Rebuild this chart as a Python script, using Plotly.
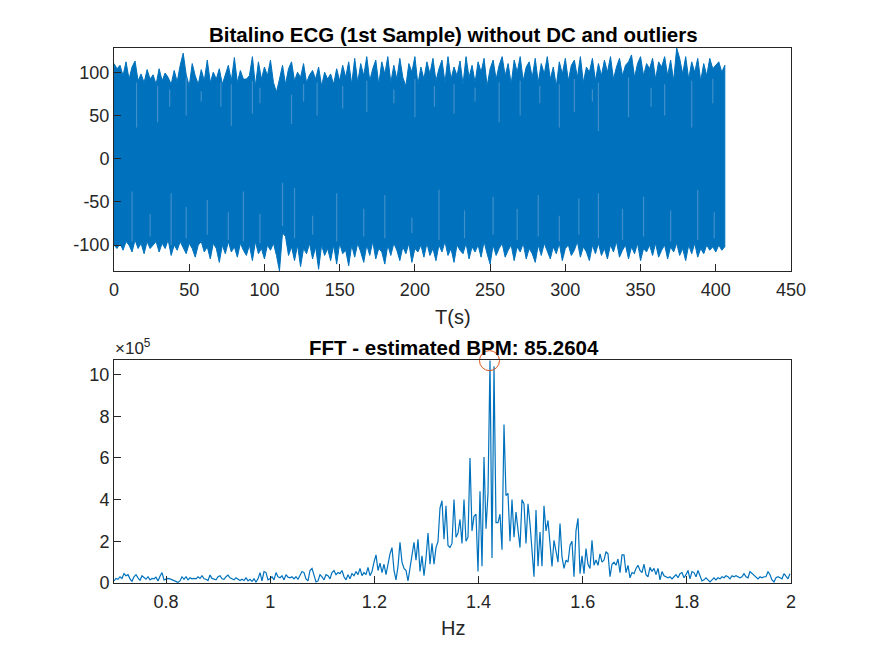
import plotly.graph_objects as go

# Top panel: ECG envelope, one value every 2 s
ecg_step_s = 2
ecg_upper = [110,104,108,96,112,92,106,113,90,98,88,103,92,97,86,104,90,99,94,86,102,89,108,122,97,84,110,96,86,103,90,114,88,100,92,104,86,96,108,90,
             117,88,102,92,92,96,118,84,112,92,106,96,114,88,77,92,108,86,104,112,90,100,94,110,88,97,102,92,106,84,100,92,98,86,104,90,108,94,112,86,
             116,88,110,96,118,90,104,114,86,112,98,118,88,108,92,116,94,84,110,100,118,86,106,92,112,98,116,90,104,114,88,118,92,106,96,113,86,118,94,108,
             88,112,100,116,84,104,114,92,108,118,96,110,86,114,100,118,90,106,112,94,116,88,110,98,118,92,106,84,112,98,116,90,108,114,94,118,88,106,100,116,
             90,110,96,114,100,118,92,106,116,96,108,112,120,94,110,118,96,110,104,116,92,112,106,118,96,114,90,128,116,98,118,92,112,100,116,90,110,96,116,104,108,112,100,108]
ecg_lower = [-100,-104,-98,-106,-96,-100,-108,-94,-104,-98,-110,-96,-104,-100,-96,-108,-98,-104,-94,-112,-100,-106,-96,-102,-110,-98,-104,-114,-100,-96,-108,-102,-116,-98,-104,-120,-100,-110,-96,-108,
             -102,-114,-98,-106,-112,-100,-118,-96,-110,-104,-116,-100,-106,-98,-112,-130,-86,-90,-112,-102,-118,-100,-125,-104,-110,-98,-116,-102,-128,-100,-112,-104,-118,-100,-122,-98,-110,-106,-124,-100,
             -114,-98,-108,-120,-100,-112,-96,-116,-104,-108,-122,-100,-112,-98,-106,-118,-102,-110,-98,-120,-104,-108,-100,-114,-98,-112,-104,-118,-100,-108,-96,-112,-104,-120,-100,-106,-110,-98,-116,-102,
             -108,-100,-114,-96,-110,-122,-100,-112,-104,-98,-114,-106,-100,-118,-102,-108,-98,-116,-104,-110,-120,-100,-112,-98,-108,-116,-102,-110,-98,-118,-104,-100,-112,-106,-96,-114,-102,-108,-118,-100,
             -110,-98,-112,-104,-116,-100,-108,-96,-114,-106,-100,-116,-102,-110,-98,-118,-104,-108,-100,-112,-98,-114,-106,-100,-116,-102,-108,-98,-112,-104,-118,-100,-110,-98,-114,-104,-110,-100,-106,-102,-108,-100,-106,-102]

# Lighter gaps seen inside the band
gap_time_up = [15,29,37,48,58,71,78,92,97,118,126,135,152,168,186,200,213,226,240,256,270,283,296,306,318,322,342,357,366,384,398]
gap_low_up = [36,42,60,50,66,60,38,52,64,40,66,50,58,54,64,48,60,52,66,42,50,64,36,54,66,32,48,60,50,36,64]
gap_high_up = [88,84,80,94,78,88,86,90,82,74,86,88,84,90,80,92,84,86,82,88,90,84,86,92,80,88,94,82,86,90,92]
gap_time_down = [12,24,38,48,62,76,86,97,112,120,132,148,166,180,198,216,233,252,268,282,296,309,322,338,352,370,388,399]
gap_low_down = [-96,-90,-100,-92,-88,-94,-96,-98,-78,-92,-88,-96,-90,-92,-86,-94,-92,-88,-94,-90,-96,-88,-92,-94,-90,-96,-94,-92]
gap_high_down = [-38,-64,-40,-56,-48,-62,-38,-64,-28,-34,-66,-40,-58,-42,-68,-36,-60,-44,-58,-42,-66,-46,-40,-58,-44,-60,-36,-62]

# Bottom panel: FFT magnitude (x 10^5), one value per 2 px of the axis
fft_df = 0.0038405
fft_mag = [
 .1,.22,.18,.3,.22,.45,.35,.4,.2,.08,.3,.4,.25,.12,.35,.28,.18,.3,.15,.22,.2,.28,.1,.32,.5,.15,.2,
 .22,.2,.15,.12,.05,.03,.1,.3,.18,.3,.15,.25,.2,.22,.2,.3,.22,.35,.2,.18,.12,.38,.22,.2,.15,.3,.35,.2,.18,.3,.38,.25,.2,.15,.25,.18,.12,
 .18,.12,.25,.1,.18,.08,.2,.05,.2,.5,.1,.55,.5,.15,.2,.3,.15,.5,.3,.25,.35,.15,.4,.28,.25,.3,.2,.3,.18,.35,
 .55,.5,.2,.1,.6,.7,.4,.05,.1,.4,.3,.15,.4,.35,.2,.5,.6,.4,.5,.45,.6,.3,.15,.4,.2,
 .45,.35,.55,.4,.7,.35,.5,.4,.75,.35,.55,
 1.0,1.35,.6,.95,.5,.9,.4,1.0,1.4,1.7,.6,.15,.8,1.95,
 1.0,.7,.6,.1,.7,1.5,1.95,1.1,2.1,.55,1.3,.35,1.2,2.4,.9,1.9,.9,1.7,2.0,3.6,3.95,2.1,3.7,1.8,1.7,1.9,4.0,2.2,2.4,3.05,1.9,4.0,2.0,2.2,6.0,2.5,3.2,3.3,.55,4.4,.8,6.05,2.6,4.3,10.67,1.2,10.4,2.9,2.9,3.3,1.6,7.6,4.2,4.3,2.0,4.0,
 2.2,3.4,2.4,1.7,4.0,3.8,1.9,3.8,2.85,1.4,.3,3.5,.8,2.45,.8,3.7,2.5,3.0,2.0,.8,2.05,1.6,1.0,2.85,1.25,.7,1.1,1.0,1.8,2.0,.3,2.5,3.1,.45,1.3,.45,1.65,.9,.7,2.05,.85,1.1,.85,1.4,1.0,1.1,1.5,1.4,.3,.9,1.0,.85,1.15,.5,
 1.35,1.35,.5,.85,.25,.5,.45,.7,.85,.6,.5,.9,.4,.3,.75,.55,.7,.4,.7,.15,.55,.35,.3,.25,.3,.2,.3,.4,.25,.45,.5,.25,.4,.6,.2,.55,.5,.3,.6,.3,.1,.15,.25,.15,.05,.15,.25,.15,.25,.2,.3,.25,.35,.3,.2,.35,.3,.35,.3,.25,.3,.45,.3,.25,.55,.45,.35,.3,.2,.3,.25,.3,.3,.55,.4,.15,.05,.25,.3,.25,.2,.45,.35,.2,.45]

peak_freq = [1.42101]
peak_mag = [10.67]

TITLE_TOP = "Bitalino ECG (1st Sample) without DC and outliers"
TITLE_BOTTOM = "FFT - estimated BPM: 85.2604"
X_TICKS_TOP = [0, 50, 100, 150, 200, 250, 300, 350, 400, 450]
Y_TICKS_TOP = [-100, -50, 0, 50, 100]
Y_LABELS_TOP = ["-100", "-50", "0", "50", "100"]
X_TICKS_BOTTOM = [0.8, 1, 1.2, 1.4, 1.6, 1.8, 2]
X_LABELS_BOTTOM = ["0.8", "1", "1.2", "1.4", "1.6", "1.8", "2"]
Y_TICKS_BOTTOM = [0, 2, 4, 6, 8, 10]

BLUE = "#0072BD"
INK = "#262626"
FONT = "Liberation Sans"
W, H = 875, 656
OFF = 8  # the page's default body margin moves the figure by this many px

ecg_time = [i * ecg_step_s for i in range(len(ecg_upper))]
fft_freq = [0.7 + i * fft_df for i in range(len(fft_mag))]

fig = go.Figure()
fig.add_trace(go.Scatter(
    x=ecg_time + ecg_time[::-1], y=ecg_upper + ecg_lower[::-1],
    mode="lines", fill="toself", fillcolor=BLUE,
    line=dict(color=BLUE, width=1), xaxis="x", yaxis="y", showlegend=False))

gx, gy = [], []
for t, a, b in list(zip(gap_time_up, gap_low_up, gap_high_up)) + list(zip(gap_time_down, gap_low_down, gap_high_down)):
    gx += [t, t, None]
    gy += [a, b, None]
fig.add_trace(go.Scatter(x=gx, y=gy, mode="lines", line=dict(color="#3F8FCA", width=1.2),
                         xaxis="x", yaxis="y", showlegend=False))

fig.add_trace(go.Scatter(x=fft_freq, y=fft_mag, mode="lines", line=dict(color=BLUE, width=1.2),
                         xaxis="x2", yaxis="y2", showlegend=False))
fig.add_trace(go.Scatter(x=peak_freq, y=peak_mag, mode="markers", cliponaxis=False,
                         marker=dict(symbol="circle-open", size=20, color="#D95319", line=dict(width=1, color="#D95319")),
                         xaxis="x2", yaxis="y2", showlegend=False))

ax = dict(showgrid=False, zeroline=False, showline=True, mirror=True, linecolor=INK, linewidth=1,
          automargin=False, ticks="inside", ticklen=7, tickwidth=1, tickcolor=INK,
          tickfont=dict(family=FONT, size=18, color=INK))


def px(v):
    return (v - OFF) / W


def py(v):
    return 1 - (v - OFF) / H


dom_x = [px(114), px(791)]
label_font = dict(family=FONT, size=20, color=INK)
title_font = dict(family=FONT, size=20.5, color="black")


def note(text, x, y, font, xanchor="center"):
    return dict(text=text, x=px(x), y=py(y), xref="paper", yref="paper", showarrow=False,
                font=font, xanchor=xanchor, yanchor="middle")


fig.update_layout(
    width=W, height=H, margin=dict(l=0, r=0, t=0, b=0),
    paper_bgcolor="white", plot_bgcolor="white",
    font=dict(family=FONT, color=INK),
    xaxis=dict(ax, domain=dom_x, range=[0, 450], tickvals=X_TICKS_TOP, anchor="y", ticklabelstandoff=2),
    yaxis=dict(ax, domain=[py(271), py(48)], range=[-130, 128], tickvals=Y_TICKS_TOP, ticktext=Y_LABELS_TOP, anchor="x"),
    xaxis2=dict(ax, domain=dom_x, range=[0.7, 2], tickvals=X_TICKS_BOTTOM, ticktext=X_LABELS_BOTTOM, anchor="y2", ticklabelstandoff=2),
    yaxis2=dict(ax, domain=[py(583), py(360)], range=[0, 10.7], tickvals=Y_TICKS_BOTTOM, anchor="x2"),
    annotations=[
        note("<b>%s</b>" % TITLE_TOP, 453.5, 35, title_font),
        note("<b>%s</b>" % TITLE_BOTTOM, 453.5, 347, title_font),
        note("×10<sup>5</sup>", 113, 347, dict(family=FONT, size=17, color=INK), "left"),
        note("T(s)", 453, 317, label_font),
        note("Hz", 453, 628, label_font),
    ],
)
fig.write_html("out.html")
